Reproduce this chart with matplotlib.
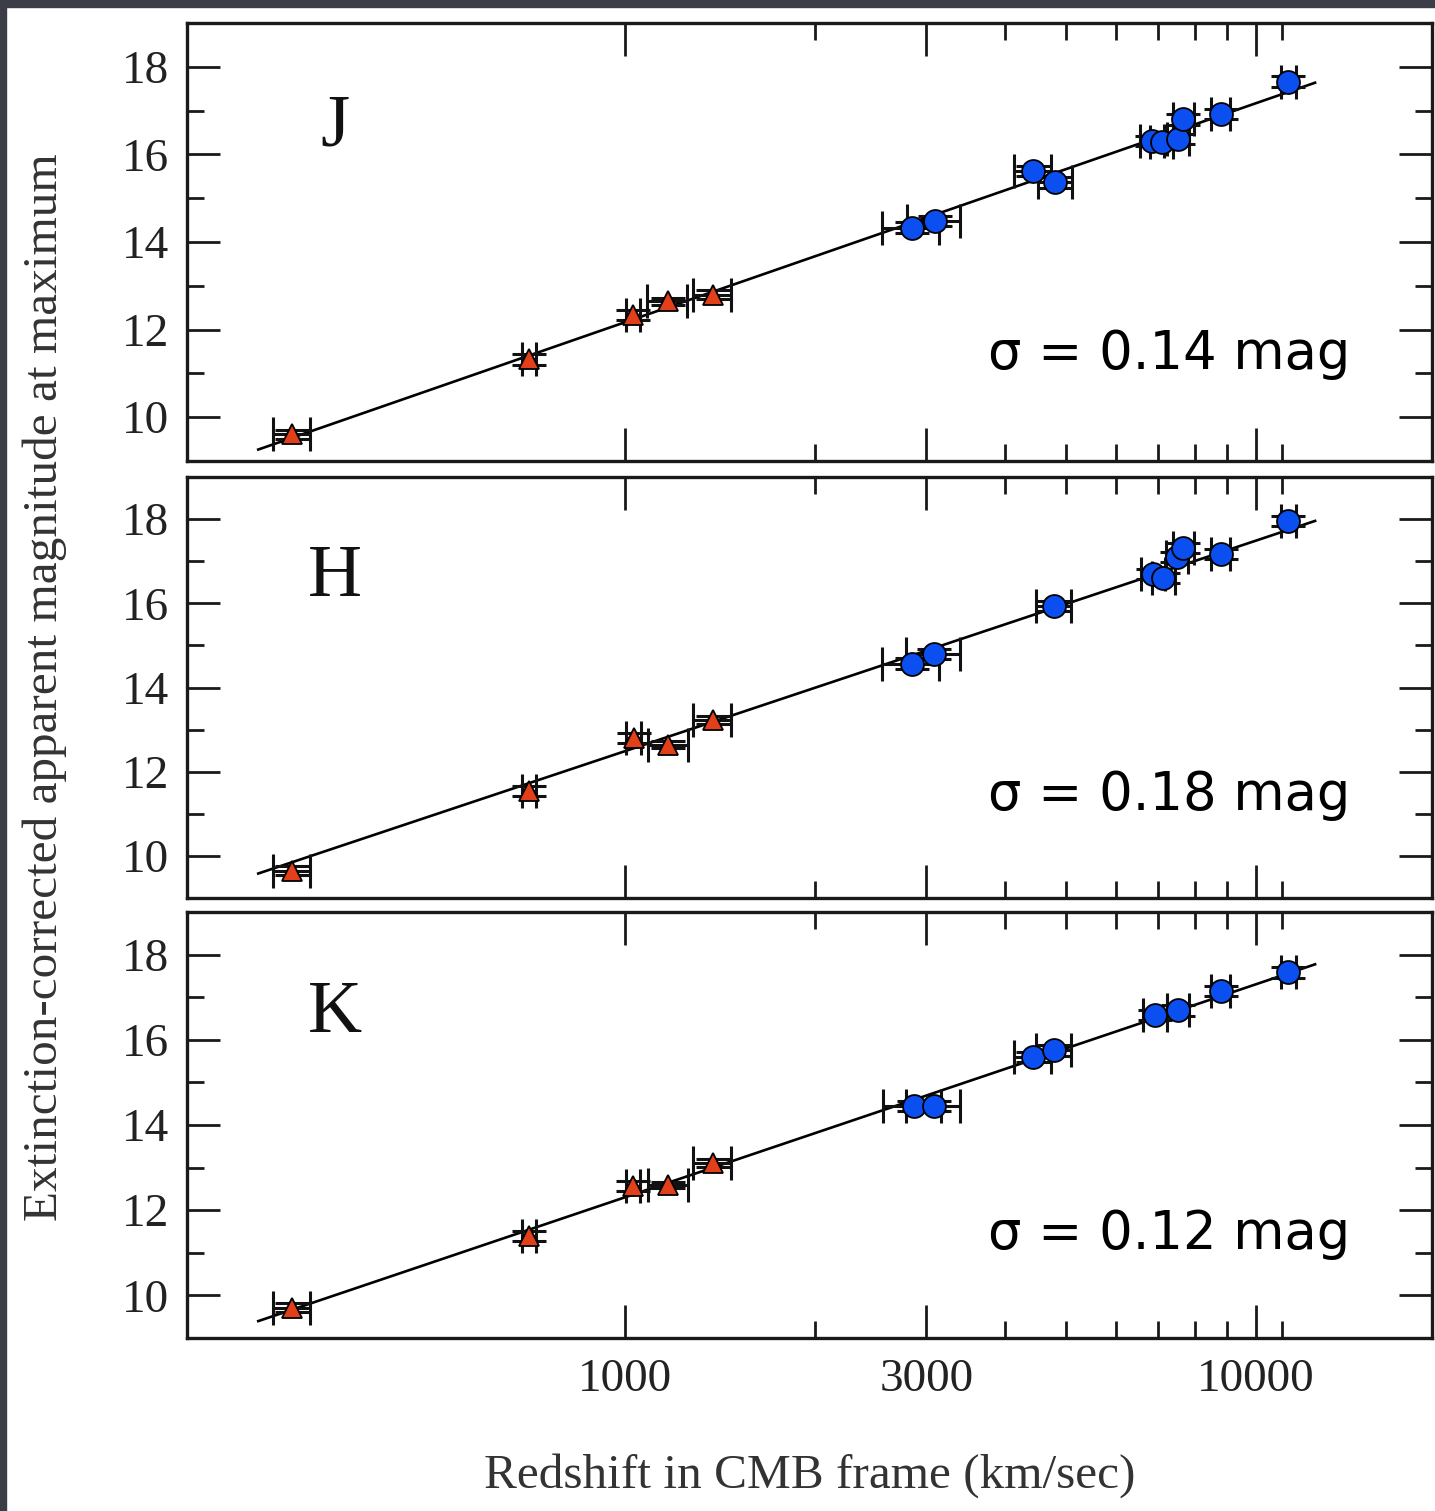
import numpy as np
import matplotlib
matplotlib.use("Agg")
import matplotlib.pyplot as plt
from matplotlib.ticker import FixedLocator, NullFormatter, FixedFormatter
from matplotlib.patches import Rectangle

# ---------------- data ----------------
bands = ["J", "H", "K"]
sigmas = ["0.14", "0.18", "0.12"]

# triangles (nearby, distance-based)
J_tri_v = [296, 703, 1028, 1169, 1377]
J_tri_m = [9.61, 11.32, 12.33, 12.65, 12.80]
H_tri_v = [296, 705, 1031, 1171, 1377]
H_tri_m = [9.65, 11.54, 12.80, 12.64, 13.23]
K_tri_v = [296, 703, 1028, 1171, 1377]
K_tri_m = [9.71, 11.40, 12.56, 12.59, 13.11]
tri_xerr = [20, 18, 27, 85, 96]
tri_yerr = [0.10, 0.12, 0.12, 0.08, 0.10]

# circles (Hubble flow)
J_blue_v = [2848, 3099, 4428, 4803, 6834, 7088, 7532, 7671, 8794, 11252]
J_blue_m = [14.33, 14.48, 15.62, 15.36, 16.31, 16.29, 16.35, 16.80, 16.92, 17.66]
H_blue_v = [2848, 3088, 4786, 6874, 7126, 7489, 7671, 8794, 11252]
H_blue_m = [14.57, 14.80, 15.94, 16.69, 16.60, 17.10, 17.32, 17.18, 17.96]
K_blue_v = [2864, 3088, 4428, 4786, 6920, 7532, 8794, 11252]
K_blue_m = [14.45, 14.45, 15.59, 15.75, 16.59, 16.69, 17.15, 17.58]
blue_xerr = 300
blue_yerr = 0.12

# Hubble-line zero points  m = 5 log10(v) + zp
zero_points = [-2.83, -2.51, -2.695]
fit_range = [262, 12400]

x_major = [1000, 3000, 10000]
x_major_labels = ["1000", "3000", "10000"]
x_minor = [2000, 4000, 5000, 6000, 7000, 8000, 9000, 11000]
y_major = [10, 12, 14, 16, 18]
y_minor = [11, 13, 15, 17]

tri_data = [(J_tri_v, J_tri_m), (H_tri_v, H_tri_m), (K_tri_v, K_tri_m)]
blue_data = [(J_blue_v, J_blue_m), (H_blue_v, H_blue_m), (K_blue_v, K_blue_m)]

# ---------------- figure ----------------
W, H = 1435, 1511
fig = plt.figure(figsize=(W / 100, H / 100), dpi=100)
fig.patch.set_facecolor("white")
dark = "#3b3e46"
fig.patches.append(Rectangle((0, 1 - 7 / H), 1, 7 / H, transform=fig.transFigure,
                             color=dark, zorder=0))
fig.patches.append(Rectangle((0, 0), 6 / W, 1, transform=fig.transFigure,
                             color=dark, zorder=0))

serif = "Liberation Serif"
left = 187 / W
width = (1432 - 187) / W
panel_px = [(23, 461), (477, 898), (912, 1338)]

for i, band in enumerate(bands):
    top, bot = panel_px[i]
    ax = fig.add_axes([left, 1 - bot / H, width, (bot - top) / H])
    ax.set_xscale("log")
    ax.set_xlim(202, 19000)
    ax.set_ylim(9.0, 19.0)

    # fit line
    xv = np.array(fit_range, dtype=float)
    ax.plot(xv, 5 * np.log10(xv) + zero_points[i], color="black", lw=1.9, zorder=2)

    tv, tm = tri_data[i]
    ax.errorbar(tv, tm, xerr=tri_xerr, yerr=tri_yerr, fmt="none", ecolor="#111111",
                elinewidth=2.2, capsize=12.5, capthick=2.2, zorder=3)
    ax.plot(tv, tm, linestyle="none", marker="^", ms=14, mfc="#e2401b",
            mec="black", mew=1.3, zorder=4)

    bv, bm = blue_data[i]
    ax.errorbar(bv, bm, xerr=blue_xerr, yerr=blue_yerr, fmt="none", ecolor="#111111",
                elinewidth=2.2, capsize=12.5, capthick=2.2, zorder=3)
    ax.plot(bv, bm, linestyle="none", marker="o", ms=16.5, mfc="#0b4ff0",
            mec="black", mew=1.3, zorder=4)

    # ticks
    ax.xaxis.set_major_locator(FixedLocator(x_major))
    ax.xaxis.set_minor_locator(FixedLocator(x_minor))
    ax.xaxis.set_minor_formatter(NullFormatter())
    if i == 2:
        ax.xaxis.set_major_formatter(FixedFormatter(x_major_labels))
    else:
        ax.xaxis.set_major_formatter(NullFormatter())
    ax.yaxis.set_major_locator(FixedLocator(y_major))
    ax.yaxis.set_minor_locator(FixedLocator(y_minor))
    ax.tick_params(which="both", direction="in", top=True, right=True,
                   width=2.0, color="#1a1a1a")
    ax.tick_params(which="major", length=24)
    ax.tick_params(which="minor", length=12)
    ax.tick_params(axis="y", which="major", pad=13)
    ax.tick_params(axis="x", which="major", pad=15)
    for lab in ax.get_xticklabels() + ax.get_yticklabels():
        lab.set_fontfamily(serif)
        lab.set_fontsize(34)
        lab.set_color("#222222")
    for s in ax.spines.values():
        s.set_linewidth(2.4)
        s.set_color("#1a1a1a")

    ax.text(0.119, 0.76, band, transform=ax.transAxes, fontsize=54,
            fontfamily=serif, ha="center", va="center", color="#111111")
    ax.text(0.934, 0.21, "\u03c3 = " + sigmas[i] + " mag", transform=ax.transAxes,
            fontsize=38, fontfamily="DejaVu Sans", ha="right", va="baseline",
            color="black")

fig.text(45 / W, 1 - 687 / H, "Extinction-corrected apparent magnitude at maximum",
         rotation=90, ha="center", va="center", fontsize=35.5, fontfamily=serif,
         color="#333333")
fig.text(810 / W, 1 - 1476 / H, "Redshift in CMB frame (km/sec)",
         ha="center", va="center", fontsize=35.5, fontfamily=serif, color="#333333")

fig.savefig("out.png", dpi=100, facecolor=fig.get_facecolor())
